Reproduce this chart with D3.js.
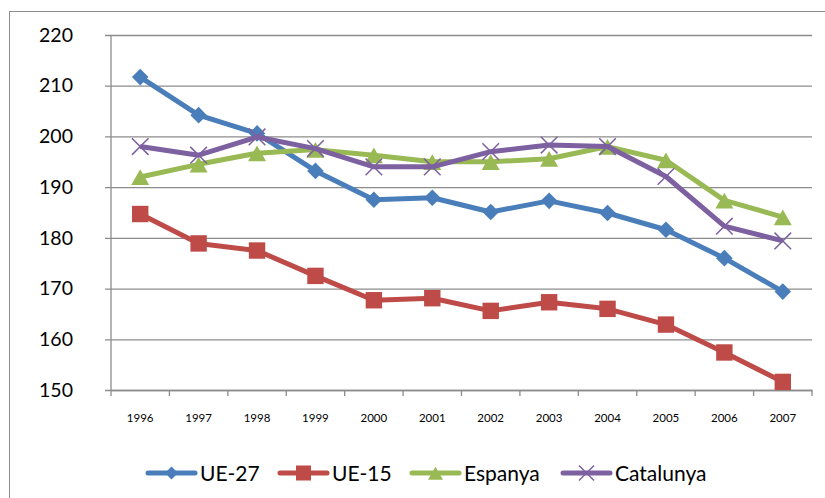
<!DOCTYPE html>
<html lang="en">
<head>
<meta charset="utf-8">
<title>UE-27, UE-15, Espanya, Catalunya</title>
<style type="text/css">
  body { margin: 0; background: #fff; }
  svg text { font-family: Lato, "Open Sans", sans-serif; fill: #000; }
</style>
</head>
<body>
<script src="https://cdnjs.cloudflare.com/ajax/libs/d3/7.8.5/d3.min.js"></script>
<script>

var years = ["1996","1997","1998","1999","2000","2001","2002","2003","2004","2005","2006","2007"];
var yTicks = [150, 160, 170, 180, 190, 200, 210, 220];
var seriesNames = ["UE-27", "UE-15", "Espanya", "Catalunya"];

var ue27 = [211.7, 204.2, 200.6, 193.2, 187.5, 187.9, 185.1, 187.3, 184.9, 181.6, 176.0, 169.4];
var ue15 = [184.7, 178.9, 177.5, 172.5, 167.7, 168.1, 165.6, 167.3, 166.0, 162.9, 157.4, 151.6];
var espanya = [192.0, 194.5, 196.7, 197.4, 196.3, 195.0, 195.0, 195.6, 198.0, 195.3, 187.4, 184.1];
var catalunya = [198.0, 196.3, 199.9, 197.6, 194.0, 194.0, 197.0, 198.3, 198.0, 192.1, 182.3, 179.4];

var colors = ["#4a7ebb", "#be4b48", "#98b954", "#7d60a0"];
var markers = ["diamond", "square", "triangle", "cross"];
var allData = [ue27, ue15, espanya, catalunya];

var w = 825, h = 498;
var plotL = 111, plotR = 812, plotT = 35, plotB = 390;

var svg = d3.select("body").append("svg")
    .attr("width", w)
    .attr("height", h);

// chart border
svg.append("rect")
    .attr("x", 9.5).attr("y", 11.5)
    .attr("width", 830).attr("height", 500)
    .attr("fill", "none")
    .attr("stroke", "#8c8c8c")
    .attr("stroke-width", 1);

var x = d3.scaleBand().domain(years).range([plotL, plotR]);
var y = d3.scaleLinear().domain([150, 220]).range([plotB, plotT]);

// gridlines + y axis
var yAxis = d3.axisLeft(y)
    .tickValues(yTicks)
    .tickSize(-(plotR - plotL))
    .tickPadding(38)
    .tickFormat(d3.format("d"));

var gy = svg.append("g")
    .attr("transform", "translate(" + plotL + ",0)")
    .call(yAxis);
gy.select(".domain").remove();
gy.selectAll(".tick line")
    .attr("x1", -6)
    .attr("stroke", "#8c8c8c")
    .attr("stroke-width", 1.3);
gy.selectAll(".tick text")
    .style("font-size", "19.5px");

// left axis line
svg.append("line")
    .attr("x1", plotL).attr("x2", plotL)
    .attr("y1", plotT).attr("y2", plotB)
    .attr("stroke", "#8c8c8c").attr("stroke-width", 1.3);

// x axis
var gx = svg.append("g")
    .attr("transform", "translate(0," + plotB + ")")
    .call(d3.axisBottom(x).tickSize(0).tickPadding(24));
gx.select(".domain")
    .attr("stroke", "#8c8c8c").attr("stroke-width", 1.3);
gx.selectAll(".tick text").style("font-size", "11.5px");

// tick marks at category boundaries
var bounds = years.map(function(d) { return x(d); }).concat([plotR]);
svg.selectAll(".xtick")
    .data(bounds)
    .enter().append("line")
    .attr("class", "xtick")
    .attr("x1", function(d) { return d; })
    .attr("x2", function(d) { return d; })
    .attr("y1", plotB).attr("y2", plotB + 6)
    .attr("stroke", "#8c8c8c").attr("stroke-width", 1.3);

function cx(i) { return x(years[i]) + x.bandwidth() / 2; }

function drawMarker(g, type, color, px, py, s) {
    if (type === "diamond") {
        g.append("path")
            .attr("d", "M" + px + "," + (py - s) + "L" + (px + s) + "," + py + "L" + px + "," + (py + s) + "L" + (px - s) + "," + py + "Z")
            .attr("fill", color);
    } else if (type === "square") {
        g.append("rect")
            .attr("x", px - s).attr("y", py - s)
            .attr("width", 2 * s).attr("height", 2 * s)
            .attr("fill", color);
    } else if (type === "triangle") {
        g.append("path")
            .attr("d", "M" + px + "," + (py - s * 0.85) + "L" + (px + s) + "," + (py + s * 0.9) + "L" + (px - s) + "," + (py + s * 0.9) + "Z")
            .attr("fill", color);
    } else {
        g.append("path")
            .attr("d", "M" + (px - s) + "," + (py - s) + "L" + (px + s) + "," + (py + s) + "M" + (px + s) + "," + (py - s) + "L" + (px - s) + "," + (py + s))
            .attr("stroke", color).attr("stroke-width", 1.5).attr("fill", "none");
    }
}

var line = d3.line()
    .x(function(d, i) { return cx(i); })
    .y(function(d) { return y(d); });

var sizes = [8.3, 8.2, 9, 8.3];

allData.forEach(function(vals, k) {
    var g = svg.append("g");
    g.append("path")
        .datum(vals)
        .attr("d", line)
        .attr("fill", "none")
        .attr("stroke", colors[k])
        .attr("stroke-width", 5)
        .attr("stroke-linejoin", "round");
    vals.forEach(function(v, i) {
        drawMarker(g, markers[k], colors[k], cx(i), y(v), sizes[k]);
    });
});

// legend
var legX = [148, 280, 412, 563];
var ly = 473;
seriesNames.forEach(function(name, k) {
    var g = svg.append("g");
    g.append("line")
        .attr("x1", legX[k]).attr("x2", legX[k] + 47)
        .attr("y1", ly).attr("y2", ly)
        .attr("stroke", colors[k]).attr("stroke-width", 5)
        .attr("stroke-linecap", "round");
    drawMarker(g, markers[k], colors[k], legX[k] + 23.5, ly, k === 0 ? 6.5 : 7.5);
    g.append("text")
        .attr("x", legX[k] + 52)
        .attr("y", ly + 7.5)
        .style("font-size", "21px")
        .text(name);
});

</script>
</body>
</html>
